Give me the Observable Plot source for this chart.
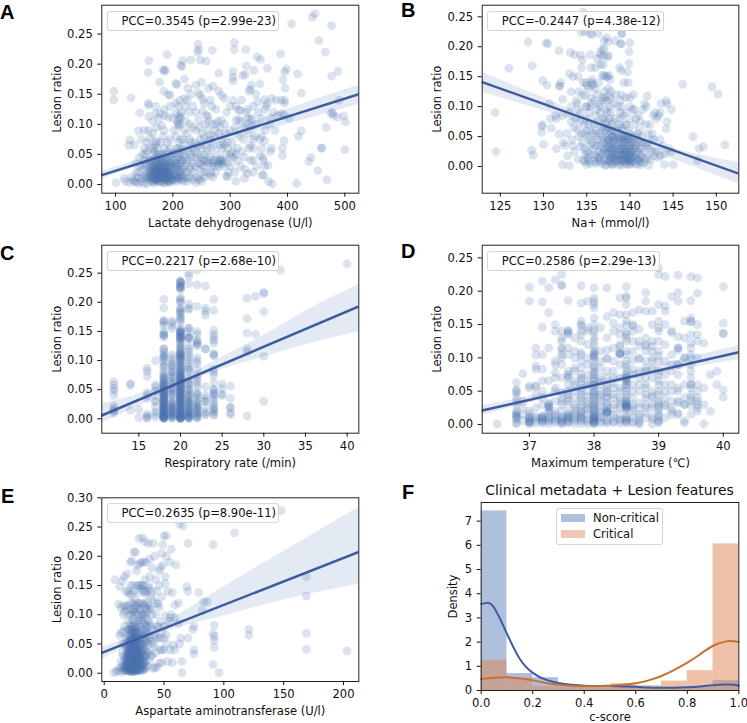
<!DOCTYPE html>
<html><head><meta charset="utf-8">
<script src="https://cdn.jsdelivr.net/npm/d3@7"></script>
<script src="https://cdn.jsdelivr.net/npm/@observablehq/plot@0.6"></script>
<style>
html,body{margin:0;padding:0;background:#fff}
#root{position:relative;width:747px;height:723px;overflow:hidden;font-family:"DejaVu Sans",sans-serif;color:#111}
#root svg{position:absolute;background:transparent}
.pcc{position:absolute;box-sizing:border-box;height:20px;background:rgba(255,255,255,.8);border:1px solid rgba(204,204,204,.8);border-radius:3px;font-size:11.55px;line-height:18px;white-space:nowrap}
.letter{position:absolute;font-family:"Liberation Sans",sans-serif;font-weight:700;font-size:20px;line-height:20px;color:#000}
</style></head><body><div id="root"></div>
<script>
const pointsA=[[97,.155],[97,.141],[127,.144],[101,.003],[157,.186],[158,.206],[190,.216],[183,.191],[187,.19],[185,.188],[214,.198],[216,.196],[217,.206],[231,.207],[244,.233],[245,.224],[243,.22],[248,.207],[258,.205],[269,.223],[307,.236],[307,.224],[327,.224],[347,.212],[353,.208],[388,.217],[328,.197],[365,.193],[341,.19],[305,.188],[305,.178],[305,.172],[322,.181],[326,.183],[398,.192],[395,.187],[392,.174],[418,.184],[407,.267],[443,.278],[448,.284],[477,.264],[455,.239],[466,.22],[488,.188],[477,.18],[424,.152],[337,.165],[335,.158],[333,.155],[352,.167],[205,.168],[207,.166],[177,.17],[184,.155],[192,.15],[195,.148],[157,.135],[158,.132],[142,.119],[158,.113],[140,.089],[125,.074],[123,.065],[133,.066],[501,.104],[498,.114],[487,.112],[478,.12],[476,.118],[480,.115],[490,.14],[467,.095],[459,.06],[460,.061],[453,.023],[469,.008],[416,.002],[500,.058],[441,.045],[437,.038],[419,.08],[424,.089],[378,.09],[394,.073],[391,.06],[391,.048],[373,.001],[367,.005],[358,.015],[356,.016],[366,.032],[226,.16],[232,.15],[225,.14],[212,.14],[205,.135],[220,.143],[245,.152],[248,.148],[252,.142],[262,.16],[270,.163],[265,.14],[268,.13],[285,.148],[290,.143],[305,.14],[310,.13],[315,.124],[317,.123],[330,.125],[340,.13],[348,.137],[360,.141],[365,.135],[372,.143],[380,.14],[395,.14],[395,.135],[360,.125],[370,.11],[390,.118],[395,.115],[403,.11],[170,.118],[178,.118],[185,.115],[192,.112],[200,.11],[205,.118],[212,.115],[208,.105],[210,.098],[214,.112],[222,.105],[228,.12],[230,.1],[245,.107],[252,.122],[258,.115],[262,.113],[262,.105],[275,.1],[285,.107],[290,.1],[310,.107],[315,.108],[330,.11],[335,.108],[330,.1],[325,.095],[338,.097],[345,.1],[355,.08],[360,.072],[355,.06],[372,.06],[370,.055],[352,.048],[358,.04],[360,.03],[340,.075],[335,.065],[340,.04],[325,.045],[318,.03],[330,.018],[325,.01],[340,.02],[310,.005],[300,.05],[305,.055],[310,.05],[295,.07],[290,.065],[285,.06],[280,.085],[272,.08],[265,.082],[255,.078],[248,.075],[240,.09],[232,.07],[225,.085],[218,.075],[205,.08],[195,.075],[185,.09],[180,.098],[172,.095],[165,.085],[170,.072],[172,.07],[160,.077],[150,.06],[142,.045],[135,.035],[128,.012],[115,.01],[118,.005],[125,.003],[130,.008],[135,.004],[140,.002],[145,.005],[150,.001],[155,.002],[140,.02],[148,.025],[152,.03],[155,.055],[160,.062],[165,.06],[168,.055],[172,.05],[175,.045],[178,.042],[182,.05],[185,.06],[190,.055],[195,.045],[200,.052],[205,.05],[210,.06],[212,.052],[215,.058],[218,.05],[222,.045],[225,.04],[230,.05],[235,.06],[240,.055],[245,.065],[250,.06],[255,.05],[260,.055],[265,.045],[270,.04],[275,.04],[280,.038],[285,.035],[290,.038],[295,.035],[300,.045],[245,.035],[250,.033],[255,.03],[262,.035],[268,.03],[275,.02],[280,.03],[240,.03],[235,.035],[230,.025],[225,.02],[220,.03],[215,.03],[210,.025],[205,.028],[200,.03],[198,.025],[195,.02],[192,.03],[188,.025],[185,.03],[182,.022],[178,.03],[175,.025],[172,.028],[170,.03],[168,.022],[165,.03],[162,.025],[160,.03],[158,.04],[155,.02],[152,.015],[160,.015],[163,.012],[165,.018],[168,.012],[170,.015],[172,.01],[175,.015],[178,.012],[180,.018],[182,.01],[185,.015],[188,.012],[190,.018],[192,.01],[195,.012],[198,.008],[200,.015],[205,.01],[208,.005],[212,.012],[215,.008],[220,.01],[225,.005],[230,.012],[235,.008],[240,.003],[245,.008],[248,.01],[250,.005],[255,.012],[265,.015],[270,.012],[293,.014],[295,.013],[160,.008],[165,.005],[170,.006],[175,.005],[180,.005],[185,.004],[190,.005],[195,.003],[165,.04],[168,.042],[172,.038],[175,.035],[180,.035],[185,.04],[190,.04],[195,.035],[205,.04],[210,.042],[215,.04],[175,.02],[178,.02],[180,.025],[185,.02],[188,.02],[170,.02],[165,.022],[160,.02]];
const moreA=[[150,.04],[153,.01],[155,.035],[157,.012],[158,.025],[160,.04],[162,.005],[163,.035],[165,.012],[166,.05],[167,.002],[168,.03],[169,.065],[170,.04],[171,.008],[172,.02],[173,.06],[174,.03],[175,.01],[176,.05],[177,.004],[178,.025],[179,.07],[180,.04],[181,.012],[182,.03],[183,.08],[184,.05],[185,.002],[186,.035],[187,.01],[188,.045],[189,.02],[190,.03],[191,.07],[192,.015],[193,.04],[194,.005],[195,.06],[196,.03],[197,.015],[198,.05],[199,.008],[200,.04],[201,.02],[202,.09],[203,.006],[204,.035],[206,.015],[207,.06],[208,.03],[209,.1],[210,.01],[211,.045],[213,.02],[214,.075],[216,.015],[217,.04],[218,.005],[219,.09],[221,.02],[222,.065],[224,.035],[226,.01],[227,.055],[229,.075],[231,.03],[233,.045],[234,.095],[236,.02],[238,.07],[239,.045],[241,.012],[243,.05],[246,.095],[247,.025],[249,.045],[251,.085],[253,.02],[254,.04],[256,.1],[258,.065],[259,.02],[261,.09],[263,.04],[264,.075],[266,.02],[267,.06],[269,.1],[271,.065],[273,.03],[274,.09],[276,.05],[278,.105],[279,.035],[282,.065],[283,.095],[284,.04],[287,.07],[288,.03],[291,.085],[292,.05],[294,.12],[296,.06],[297,.02],[299,.09],[301,.03],[303,.07],[306,.045],[308,.02],[309,.095],[312,.06],[313,.04],[316,.08],[319,.105],[321,.055],[323,.075],[326,.025],[328,.12],[331,.085],[333,.06],[336,.04],[338,.11],[341,.06],[343,.08],[346,.03],[349,.12],[352,.075],[354,.11],[357,.045],[361,.09],[363,.13],[368,.1],[375,.12],[383,.115],[389,.14],[396,.16],[152,.05],[148,.012],[146,.033],[144,.01],[142,.03],[138,.012],[136,.02],[133,.005],[148,.05],[155,.07],[158,.09],[145,.075],[150,.09],[165,.105],[175,.11],[185,.125],[195,.13],[170,.13],[215,.12],[210,.13],[222,.13],[235,.13],[240,.12],[255,.135],[275,.125],[280,.155],[300,.13],[320,.14],[345,.15],[250,.17],[240,.165],[220,.175],[280,.185]];
const denseA=[[160,.012],[162,.018],[164,.028],[166,.01],[167,.016],[168,.026],[169,.008],[170,.024],[171,.034],[172,.016],[173,.008],[174,.022],[175,.03],[176,.012],[177,.018],[178,.036],[179,.01],[180,.028],[181,.02],[182,.038],[183,.014],[184,.024],[185,.009],[186,.028],[187,.018],[188,.034],[189,.008],[190,.024],[191,.014],[192,.022],[193,.006],[194,.03],[196,.016],[198,.036],[200,.01],[202,.026],[204,.018],[206,.034],[208,.012],[210,.02],[212,.035],[214,.015],[216,.025],[250,.04],[258,.038],[270,.035],[283,.042],[210,.07],[213,.1],[211,.11],[285,.04]];

const pointsB=[[126,.164],[128.2,.208],[128.7,.168],[129.9,.144],[130.3,.206],[130.5,.205],[130.4,.136],[131.8,.193],[131.8,.135],[131.9,.134],[132,.14],[132.2,.112],[124.4,.09],[124.5,.025],[128.6,.027],[128.8,.019],[129.8,.067],[129.8,.057],[129.9,.07],[130,.037],[130.7,.105],[130.8,.08],[130.9,.064],[131.4,.085],[131.5,.08],[131.8,.054],[131.5,.03],[132.2,.085],[132.3,.04],[132.5,.035],[132.2,.003],[132.8,.018],[133,.001],[133.2,.075],[133.5,.065],[133.4,.035],[133.6,.025],[133,.155],[133.1,.19],[133.6,.187],[134.3,.186],[134.5,.178],[134.4,.165],[133.4,.15],[134,.15],[134.6,.14],[134.9,.14],[133.8,.11],[133.9,.105],[134,.095],[134.5,.12],[134.8,.118],[134.9,.1],[134.3,.09],[134.4,.055],[134.5,.04],[134.7,.03],[134.8,.02],[134.8,.008],[135,.003],[135.2,.01],[135.3,.02],[135.3,.045],[135.4,.035],[135.5,.06],[135.5,.105],[135.4,.1],[135.5,.115],[135.5,.14],[135.6,.145],[135.7,.138],[135.7,.135],[135.5,.165],[135.4,.187],[135.4,.222],[135.6,.22],[134.8,.225],[134.4,.224],[134.6,.258],[136.3,.222],[136.5,.19],[136.6,.185],[136.8,.195],[137,.197],[136.6,.17],[136.9,.17],[137,.185],[137.4,.183],[137.5,.185],[137,.152],[137.2,.15],[137.4,.15],[137.6,.152],[137,.21],[137.3,.215],[137.5,.208],[136,.13],[136.2,.12],[136.4,.105],[136.5,.1],[136.8,.115],[136.9,.11],[137.1,.115],[137.3,.11],[137.5,.13],[137.6,.118],[137.8,.113],[136,.085],[136.3,.075],[136.6,.09],[136.8,.08],[137,.08],[137.2,.095],[137.4,.09],[137.6,.08],[137.8,.09],[136,.06],[136.1,.05],[136.2,.045],[136.3,.035],[136.4,.025],[136.5,.012],[136.6,.02],[136.7,.06],[136.8,.05],[136.9,.04],[137,.03],[137,.01],[137.1,.002],[137.2,.06],[137.3,.05],[137.3,.04],[137.4,.03],[137.4,.02],[137.5,.01],[137.5,.065],[137.6,.055],[137.6,.045],[137.7,.035],[137.7,.025],[137.8,.015],[137.8,.005],[137.9,.05],[137.9,.07],[138,.06],[138,.04],[138,.03],[138,.02],[138,.01],[138,.002],[138.1,.05],[138.2,.035],[138.2,.025],[138.3,.015],[138.3,.045],[138.4,.06],[138.5,.03],[138.5,.02],[138.5,.01],[138.6,.065],[138.7,.05],[138.7,.04],[138.8,.07],[138.9,.11],[138.9,.09],[138.9,.08],[139,.1],[139,.12],[139,.05],[139,.03],[139,.02],[139,.01],[139,.002],[139.1,.035],[139.2,.06],[139.2,.045],[139.2,.025],[139.2,.015],[139.3,.04],[139.3,.02],[139.4,.005],[139.4,.03],[139.5,.05],[139.5,.07],[139.5,.09],[139.5,.115],[139.6,.012],[139.6,.025],[139.7,.035],[139.7,.045],[139.8,.02],[139.8,.01],[139.9,.06],[140,.115],[140,.1],[140,.08],[140,.055],[140,.04],[140,.03],[140,.02],[140,.01],[140,.003],[140.1,.035],[140.2,.015],[140.2,.025],[140.3,.05],[140.4,.12],[140.5,.07],[140.5,.04],[140.5,.015],[140.6,.03],[140.6,.005],[140.7,.02],[140.8,.012],[140.9,.055],[141,.085],[141,.045],[141,.03],[141,.01],[141.2,.02],[141.3,.003],[141.5,.095],[141.7,.105],[141.9,.1],[142,.118],[141.8,.07],[142,.04],[142,.015],[142.2,.002],[142.3,.07],[142.5,.045],[142.6,.025],[142.7,.085],[142.9,.09],[143.1,.08],[143.3,.085],[143.5,.09],[143.3,.015],[143.5,.018],[143.6,.105],[144.2,.11],[144.3,.105],[144.3,.075],[144.2,.063],[144.8,.095],[144,.003],[144,.02],[144.5,.03],[144.8,.025],[145,.003],[146.1,.137],[147.3,.05],[147.8,.01],[148,.03],[148.5,.033],[149.5,.133],[150.2,.121],[151,.036],[138.9,.205],[139,.205],[140,.207],[138.3,.21],[139.9,.192],[139.9,.172],[139.7,.158],[139,.16],[139.3,.14],[139.8,.14],[138.8,.165],[139,.222],[139.1,.222],[137.8,.125],[138.4,.12],[136.8,.152],[135,.135],[135.2,.13],[134.7,.07],[135,.06],[135.1,.05],[135,.08],[135.8,.02],[135.9,.01],[136,.005],[136.4,.015],[138.6,.012],[138.8,.025],[141.4,.05],[141.1,.06],[140.7,.08],[142.1,.055],[143,.025],[143.8,.035],[142.8,.045],[143.5,.045]];
const moreB=[[132.7,.055],[133,.09],[133.2,.1],[133.3,.045],[133.7,.08],[133.9,.062],[134,.012],[134.1,.05],[134.2,.075],[134.3,.033],[134.6,.01],[134.8,.055],[135,.025],[135,.1],[135.1,.015],[135.2,.07],[135.3,.09],[135.4,.005],[135.6,.04],[135.7,.028],[135.8,.055],[135.9,.072],[136,.035],[136.1,.016],[136.2,.095],[136.3,.008],[136.5,.055],[136.6,.035],[136.7,.005],[136.8,.022],[136.9,.065],[137,.045],[137.1,.025],[137.1,.07],[137.2,.012],[137.2,.03],[137.3,.003],[137.3,.075],[137.4,.045],[137.5,.022],[137.5,.035],[137.6,.008],[137.6,.1],[137.7,.015],[137.7,.06],[137.8,.04],[137.9,.02],[137.9,.03],[138,.05],[138,.075],[138.1,.015],[138.1,.005],[138.2,.045],[138.3,.03],[138.3,.08],[138.4,.02],[138.4,.008],[138.5,.05],[138.6,.035],[138.6,.1],[138.7,.018],[138.7,.003],[138.8,.045],[138.9,.03],[138.9,.012],[139,.04],[139,.065],[139.1,.02],[139.1,.008],[139.2,.05],[139.3,.012],[139.3,.03],[139.4,.045],[139.4,.018],[139.5,.025],[139.5,.008],[139.6,.04],[139.6,.07],[139.7,.015],[139.7,.003],[139.8,.03],[139.8,.05],[139.9,.022],[139.9,.01],[140,.045],[140,.015],[140.1,.006],[140.1,.025],[140.2,.04],[140.3,.018],[140.3,.008],[140.4,.03],[140.5,.095],[140.6,.05],[140.7,.035],[140.8,.003],[140.9,.025],[141,.015],[141.1,.04],[141.2,.008],[141.3,.03],[141.4,.015],[141.5,.04],[141.6,.006],[141.7,.025],[141.8,.012],[141.9,.035],[142.2,.03],[142.4,.012],[142.6,.055],[142.8,.018],[137,.125],[136.4,.14],[138.1,.105],[139.2,.085],[140.3,.095],[141.2,.075],[134.1,.125],[135.9,.11],[133.2,.125],[137.7,.145],[136,.165],[136.2,.18]];

const ratesC=[12,14,15,16,17,18,19,20,21,22,23,24,25,26,28,29,30,32,40];
const ratiosC=[
[.064,.058,.052,.048,.04,.022,.018,.015,.013,.01],
[.06,.058,.015],
[.016,.002],
[.087,.082,.073,.045,.04,.035,.008,.005,.002,.001],
[.1,.058,.055,.048,.04,.03,.03,.02,.012,.008,.003],
[.205,.19,.168,.165,.16,.15,.145,.143,.14,.12,.115,.11,.108,.105,.1,.095,.09,.082,.078,.075,.072,.069,.066,.063,.06,.058,.055,.052,.05,.048,.046,.044,.042,.04,.038,.036,.034,.032,.03,.028,.026,.024,.022,.02,.018,.016,.014,.012,.01,.008,.006,.004,.003,.002,.001,.001],
[.168,.165,.155,.1,.095,.09,.085,.08,.075,.07,.065,.06,.055,.05,.045,.04,.03,.026,.022,.02,.018,.015,.012,.01,.007,.005,.002],
[.237,.235,.23,.225,.225,.205,.2,.19,.185,.18,.172,.17,.165,.155,.152,.15,.148,.145,.142,.14,.138,.135,.13,.125,.122,.12,.115,.113,.11,.108,.105,.103,.1,.098,.095,.09,.088,.085,.082,.08,.078,.076,.074,.072,.07,.068,.066,.064,.062,.06,.058,.056,.054,.052,.05,.048,.046,.044,.042,.04,.038,.036,.034,.032,.03,.028,.026,.024,.022,.02,.018,.016,.014,.012,.01,.008,.006,.004,.003,.002,.001,.001,.0],
[.25,.245,.232,.197,.19,.188,.156,.15,.14,.138,.12,.11,.105,.09,.085,.08,.07,.06,.055,.05,.045,.04,.035,.03,.028,.025,.022,.02,.016,.013,.01,.007,.004,.002,.001],
[.255,.23,.193,.15,.135,.13,.125,.105,.1,.095,.075,.07,.06,.045,.04,.035,.03,.025,.02,.018,.015,.012,.01,.008,.004,.002],
[.228,.19,.185,.178,.12,.055,.035,.03,.02,.007],
[.205,.186,.152,.145,.135,.112,.108,.085,.08,.075,.062,.05,.045,.04,.035,.025,.02,.012,.008],
[.06,.052,.042,.04],
[.056,.035,.02,.019,.01,.007],
[.207,.172,.147,.12,.115,.005],
[.21,.145],
[.217,.215,.184,.107,.03],
[.255],
[.266]];
const ratesC2=[18,19,20,21,22,23,24];
const ratiosC2=[
[.168,.145,.12,.105,.09,.07,.065,.06,.055,.05,.045,.04,.035,.03,.025,.022,.02,.018,.015,.012,.01,.007,.005,.003,.002,.001,.058,.05,.042,.036,.03,.024,.018,.012,.008,.004],
[.16,.11,.105,.092,.08,.072,.062,.052,.048,.042,.035,.028,.024,.019,.016,.012,.009,.006,.003,.001],
[.234,.228,.222,.208,.202,.188,.183,.175,.15,.147,.14,.137,.118,.112,.107,.1,.092,.08,.072,.065,.06,.055,.05,.045,.04,.035,.03,.025,.02,.015,.01,.005,.002,.001,.072,.062,.052,.042,.032,.022,.012,.148,.141,.13,.11,.105,.09,.085,.075,.068,.058,.048,.038,.028,.018,.008,.003,.015,.01,.006,.225,.235],
[.155,.14,.138,.125,.115,.1,.095,.085,.065,.06,.05,.042,.032,.024,.018,.012,.009,.005,.001,.038,.028,.015,.006,.003],
[.145,.132,.128,.085,.065,.055,.042,.028,.022,.016,.006,.001],
[.12,.04,.03,.012,.008],
[.14,.13,.11,.05,.042,.03,.018,.015,.006]];

const tempsD=[36.5,36.8,36.9,37,37.1,37.2,37.3,37.4,37.5,37.6,37.7,37.8,37.9,38,38.1,38.2,38.3,38.4,38.5,38.6,38.7,38.8,38.9,39,39.1,39.2,39.3,39.4,39.5,39.6,39.7,39.8,39.9,40];
const ratiosD=[
[.001],
[.063,.052,.047,.04,.034,.03,.018,.015,.014,.01,.003,.001],
[.076,.025,.006],
[.206,.185,.058,.02,.016,.01,.008,.006,.004,.002,.001],
[.115,.104,.088,.083,.058,.057,.012,.006,.002],
[.215,.184,.146,.105,.083,.066,.05,.013,.01,.009,.008,.006,.002],
[.205,.168,.115,.066,.03,.028,.025,.02,.012,.007,.001],
[.217,.15,.095,.09,.078,.055,.05,.015,.012,.006,.003],
[.225,.21,.208,.14,.13,.115,.112,.105,.1,.048,.04,.03,.012,.01,.006,.004,.002,.001],
[.186,.141,.138,.135,.115,.075,.07,.06,.045,.04,.036,.015,.013,.01,.006,.004,.002],
[.13,.1,.085,.065,.05,.025,.016,.012,.006,.001],
[.208,.182,.155,.148,.14,.125,.108,.104,.095,.075,.068,.06,.055,.045,.035,.025,.018,.012,.01,.005,.001],
[.185,.14,.09,.075,.065,.05,.042,.03,.022,.008,.001],
[.205,.19,.185,.18,.16,.142,.138,.125,.118,.112,.106,.102,.1,.085,.08,.075,.07,.065,.06,.055,.05,.045,.04,.035,.03,.025,.02,.018,.015,.012,.01,.008,.005,.003,.001],
[.095,.072,.06,.05,.04,.028,.018,.01,.002],
[.205,.162,.112,.098,.06,.05,.048,.04,.03,.02,.019,.018,.007,.002],
[.168,.152,.095,.07,.055,.045,.03,.01,.003],
[.19,.135,.12,.107,.105,.055,.035,.025,.008,.006,.002],
[.207,.193,.19,.165,.15,.138,.135,.13,.11,.095,.085,.08,.075,.07,.068,.065,.06,.055,.05,.045,.035,.032,.03,.028,.025,.022,.008,.006,.004,.002],
[.168,.148,.11,.097,.083,.05,.03,.02,.005],
[.172,.143,.118,.098,.06,.032,.012,.006,.002,.001],
[.198,.185,.17,.13,.118,.095,.08,.06,.045,.03,.018],
[.17,.15,.118,.095,.07,.043,.03,.008,.001],
[.235,.225,.18,.155,.14,.125,.11,.103,.08,.066,.05,.045,.035,.025,.02,.012,.005,.002],
[.222,.178,.15,.095,.075,.04,.028],
[.192,.14,.138,.09,.06,.025,.015],
[.224,.198,.185,.132,.115,.112,.09,.05,.035,.015],
[.155,.1,.006,.002,.03],
[.222,.186,.155,.154,.135,.122,.105,.1,.09,.06,.055,.045,.035,.015],
[.22,.197,.15,.135,.04,.035,.03],
[.122,.055,.03,.001],
[.075,.02],
[.08,.06],
[.207,.152,.137,.136,.052,.041]];
const tempsD2=[36.8,36.9,37,37.1,37.2,37.3,37.4,37.5,37.6,37.7,37.8,37.9,38,38.1,38.2,38.3,38.4,38.5,38.6,38.7,38.8,38.9,39,39.1,39.2,39.3,39.4,39.5,39.6];
const ratiosD2=[
[.05,.02,.012,.008],[.035,.015],[.055,.012,.004],[.045,.025,.01],[.04,.03,.012,.004],[.032,.026,.018,.01,.005],[.14,.07,.035,.02,.008],[.125,.09,.07,.035,.02,.008],[.14,.105,.08,.072,.05,.03,.018,.011,.008],[.11,.08,.06,.04,.03,.02,.009],[.15,.135,.085,.07,.05,.04,.03,.02,.014,.008],[.145,.12,.1,.06,.035,.025,.015,.005],[.175,.15,.13,.108,.095,.078,.068,.058,.048,.028,.022,.014,.006,.002,.104,.088,.012,.008,.004,.042,.032],[.145,.11,.085,.065,.045,.035,.022,.012,.005],[.13,.1,.08,.07,.055,.042,.032,.025,.016,.004,.02,.018],[.14,.115,.08,.062,.04,.024,.015,.005],[.165,.145,.117,.09,.07,.05,.04,.03,.015,.107,.106],[.18,.155,.125,.105,.09,.06,.04,.034,.026,.012,.01,.072,.066,.03,.028,.024],[.15,.14,.125,.075,.06,.04,.025,.012,.002],[.125,.1,.08,.07,.05,.025,.015],[.12,.11,.085,.07,.055,.04,.025,.01],[.125,.11,.1,.085,.05,.04,.025,.012],[.145,.095,.075,.06,.032,.028,.015,.006],[.17,.12,.06,.05,.03,.01],[.105,.08,.05,.035,.02],[.115,.09,.075,.055,.033,.017],[.13,.1,.06,.04,.03],[.16,.115,.08,.07,.06,.04,.028],[.125,.1,.06,.05,.025,.02]];

const pointsE=[[8,.001],[9,.16],[12,.118],[13,.148],[14,.112],[15,.158],[16,.1],[17,.165],[18,.14],[19,.17],[14,.07],[13,.065],[16,.07],[18,.06],[10,.003],[12,.005],[14,.002],[15,.01],[16,.005],[17,.012],[17,.025],[18,.005],[18,.015],[18,.03],[18,.045],[19,.008],[19,.02],[19,.035],[19,.055],[19,.075],[19,.108],[20,.005],[20,.012],[20,.022],[20,.03],[20,.04],[20,.05],[20,.065],[20,.09],[20,.115],[21,.003],[21,.01],[21,.018],[21,.028],[21,.038],[21,.048],[21,.06],[21,.075],[21,.1],[21,.135],[22,.006],[22,.015],[22,.025],[22,.035],[22,.045],[22,.055],[22,.07],[22,.085],[22,.11],[22,.15],[22,.19],[23,.002],[23,.01],[23,.02],[23,.03],[23,.04],[23,.05],[23,.065],[23,.08],[23,.1],[23,.135],[23,.192],[24,.007],[24,.015],[24,.024],[24,.033],[24,.042],[24,.052],[24,.06],[24,.075],[24,.09],[24,.12],[24,.15],[25,.003],[25,.012],[25,.02],[25,.03],[25,.04],[25,.05],[25,.06],[25,.07],[25,.085],[25,.11],[25,.14],[25,.207],[26,.006],[26,.015],[26,.026],[26,.036],[26,.046],[26,.055],[26,.068],[26,.08],[26,.105],[26,.125],[26,.207],[27,.01],[27,.018],[27,.03],[27,.04],[27,.05],[27,.062],[27,.078],[27,.115],[27,.15],[27,.175],[28,.004],[28,.014],[28,.024],[28,.034],[28,.044],[28,.06],[28,.075],[28,.1],[28,.12],[28,.185],[29,.008],[29,.02],[29,.03],[29,.045],[29,.055],[29,.09],[29,.11],[29,.138],[29,.15],[29,.23],[30,.012],[30,.025],[30,.035],[30,.05],[30,.07],[30,.095],[30,.12],[30,.15],[30,.188],[31,.005],[31,.018],[31,.03],[31,.045],[31,.06],[31,.105],[31,.145],[31,.19],[32,.01],[32,.022],[32,.038],[32,.065],[32,.085],[32,.118],[32,.232],[33,.015],[33,.028],[33,.05],[33,.075],[33,.1],[33,.14],[33,.15],[33,.19],[34,.006],[34,.03],[34,.06],[34,.085],[34,.115],[34,.16],[34,.225],[35,.02],[35,.04],[35,.07],[35,.095],[35,.135],[35,.19],[36,.012],[36,.055],[36,.08],[36,.105],[36,.14],[37,.035],[37,.065],[37,.115],[37,.222],[38,.022],[38,.085],[38,.145],[38,.165],[38,.195],[39,.055],[39,.11],[40,.03],[40,.075],[40,.14],[41,.008],[41,.05],[41,.125],[41,.222],[42,.01],[42,.065],[42,.2],[43,.035],[43,.06],[43,.16],[44,.01],[44,.08],[44,.12],[45,.06],[45,.118],[46,.017],[46,.113],[46,.175],[47,.06],[47,.088],[47,.18],[48,.018],[48,.04],[48,.07],[48,.205],[49,.185],[49,.22],[50,.06],[50,.04],[50,.235],[51,.098],[51,.153],[51,.165],[52,.065],[52,.2],[52,.235],[53,.02],[54,.088],[55,.095],[55,.19],[56,.212],[57,.138],[57,.018],[58,.048],[59,.095],[59,.117],[59,.04],[60,.185],[62,.12],[62,.085],[63,.05],[63,.255],[65,.02],[65,.001],[66,.252],[64,.06],[70,.222],[69,.148],[70,.14],[70,.06],[75,.08],[74,.075],[75,.04],[75,.033],[79,.138],[83,.122],[82,.107],[86,.122],[91,.22],[91,.068],[91,.015],[92,.082],[92,.063],[92,.056],[92,.044],[96,.001],[109,.24],[121,.075],[121,.065],[148,.278],[169,.165],[169,.132],[169,.068],[169,.041],[203,.038]];
const moreE=[[13,.01],[14,.02],[15,.035],[15,.05],[16,.03],[16,.015],[16,.115],[17,.05],[17,.08],[17,.105],[18,.01],[18,.022],[18,.115],[19,.014],[19,.028],[19,.045],[20,.018],[20,.035],[20,.045],[20,.075],[20,.14],[21,.007],[21,.014],[21,.024],[21,.034],[21,.054],[22,.004],[22,.011],[22,.02],[22,.03],[22,.04],[22,.05],[22,.062],[22,.12],[23,.006],[23,.015],[23,.025],[23,.035],[23,.045],[23,.058],[23,.072],[24,.003],[24,.011],[24,.02],[24,.029],[24,.038],[24,.047],[24,.057],[24,.068],[24,.105],[25,.007],[25,.016],[25,.025],[25,.035],[25,.045],[25,.055],[25,.065],[25,.1],[26,.003],[26,.011],[26,.02],[26,.031],[26,.041],[26,.05],[26,.06],[26,.075],[26,.115],[27,.006],[27,.014],[27,.024],[27,.035],[27,.045],[27,.056],[27,.07],[28,.009],[28,.019],[28,.029],[28,.039],[28,.05],[28,.068],[28,.09],[29,.004],[29,.014],[29,.025],[29,.038],[29,.05],[29,.065],[30,.006],[30,.018],[30,.03],[30,.042],[30,.06],[30,.08],[30,.11],[31,.012],[31,.025],[31,.038],[31,.052],[31,.075],[31,.09],[32,.005],[32,.016],[32,.03],[32,.05],[32,.1],[32,.15],[33,.008],[33,.022],[33,.04],[33,.06],[33,.12],[34,.018],[34,.045],[34,.07],[34,.1],[34,.14],[35,.01],[35,.03],[35,.055],[35,.082],[35,.11],[36,.035],[36,.07],[36,.12],[37,.05],[37,.09],[37,.15],[38,.06],[38,.11],[39,.03],[39,.08],[39,.13],[40,.1],[40,.18],[42,.045],[43,.1],[44,.14],[45,.08],[46,.15],[47,.04],[48,.13],[50,.08],[52,.05],[53,.14],[55,.04],[56,.1]];
const denseE=[[17,.004],[18,.008],[18,.02],[19,.004],[19,.012],[19,.026],[20,.008],[20,.016],[20,.026],[20,.036],[21,.005],[21,.012],[21,.02],[21,.03],[21,.042],[22,.008],[22,.018],[22,.028],[22,.038],[23,.004],[23,.012],[23,.022],[23,.032],[23,.042],[24,.005],[24,.013],[24,.022],[24,.031],[24,.04],[25,.005],[25,.014],[25,.023],[25,.033],[25,.043],[26,.008],[26,.018],[26,.028],[26,.038],[27,.004],[27,.012],[27,.022],[27,.032],[28,.006],[28,.016],[28,.026],[28,.036],[29,.01],[29,.022],[29,.034],[30,.008],[30,.02],[30,.028],[21,.055],[23,.055],[25,.058],[27,.06],[22,.075],[24,.08],[26,.07]];

const lineA=[[76,.0155],[524.4,.15]], bandA=[[76,.009,.022],[150,.033,.043],[230,.053,.067],[300,.074,.09],[400,.1,.125],[524.4,.133,.165]];
const lineB=[[122.9,.141],[152.6,-.012]], bandB=[[122.9,.124,.157],[130,.093,.115],[138,.053,.065],[145,.012,.03],[152.6,-.029,.007]];
const lineC=[[10.56,.0057],[41.4,.193]], bandC=[[10.56,-.007,.026],[15,.022,.042],[20,.057,.069],[25,.085,.106],[30,.106,.143],[35,.127,.185],[41.4,.15,.23]];
const lineD=[[36.27,.021],[40.24,.1085]], bandD=[[36.27,.0135,.0285],[37.2,.037,.046],[38.2,.06,.069],[39.2,.08,.094],[40.24,.097,.118]];
const lineE=[[-2,.0348],[212.8,.2075]], bandE=[[-2,.0234,.0445],[30,.055,.067],[60,.077,.098],[100,.098,.148],[150,.125,.208],[212.8,.152,.284]];

const binEdges=[0,.1,.2,.3,.4,.5,.6,.7,.8,.9,1];
const nonCritical=[7.42,.7,.53,.2,.16,.2,.13,.13,.13,.41];
const critical=[1.25,.52,.17,.13,.1,.28,.2,.39,.82,6.06];
const scoreGrid=[0,.02,.05,.1,.15,.2,.25,.3,.35,.4,.45,.5,.55,.6,.65,.7,.75,.8,.85,.9,.95,.98,1];
const kdeNon=[3.58,3.62,3.42,2.35,1.3,.73,.45,.31,.24,.2,.19,.19,.17,.15,.12,.11,.11,.13,.17,.22,.25,.24,.2];
const kdeCrit=[.48,.5,.53,.55,.5,.42,.31,.24,.2,.18,.18,.2,.24,.3,.42,.6,.85,1.15,1.5,1.85,2.03,2.04,2];

const BLUE="#4c72b0", LINE="#3d5c9f", ORANGE="#dd8452", OLINE="#c8702e";
const root=document.getElementById("root");
const sty={fontSize:"11.55px",fontFamily:"'DejaVu Sans',sans-serif",color:"#111",background:"transparent",overflow:"visible"};

function scatter(o){
  const svg=Plot.plot({
    width:o.w,height:o.h,marginLeft:o.ml,marginRight:o.mr,marginTop:o.mt,marginBottom:o.mb,style:sty,
    x:{domain:o.xd},y:{domain:o.yd},
    marks:[
      Plot.dot(o.pts,{x:d=>d[0],y:d=>d[1],r:4.4,fill:BLUE,fillOpacity:.2,clip:true}),
      Plot.areaY(o.band,{x:d=>d[0],y1:d=>d[1],y2:d=>d[2],fill:BLUE,fillOpacity:.15,curve:"monotone-x",clip:true}),
      Plot.line(o.line,{x:d=>d[0],y:d=>d[1],stroke:LINE,strokeWidth:2.5,clip:true}),
      Plot.frame({stroke:"#222",strokeWidth:1}),
      Plot.axisX({ticks:o.xt,tickSize:4,tickPadding:4.5,tickFormat:o.xf||(d=>d),label:o.xl,labelAnchor:"center",labelArrow:"none",labelOffset:33.5}),
      Plot.axisY({ticks:o.yt,tickSize:4,tickPadding:5,tickFormat:d3.format(".2f"),label:"Lesion ratio",labelAnchor:"center",labelArrow:"none",labelOffset:49})
    ]
  });
  svg.style.left=o.l+"px";svg.style.top=o.t+"px";
  root.appendChild(svg);
}
function box(text,l,t,w,pad){
  const b=document.createElement("div");b.className="pcc";b.textContent=text;
  b.style.cssText=`left:${l}px;top:${t}px;width:${w}px;padding-left:${pad}px`;root.appendChild(b);
}
function letter(s,l,t){const e=document.createElement("div");e.className="letter";e.textContent=s;e.style.left=l+"px";e.style.top=t+"px";root.appendChild(e);}

const yTicks=[0,.05,.1,.15,.2,.25];
const L={w:375,l:0,ml:101.3,mr:16.7}, R={w:372,l:375,ml:106.7,mr:8.7};
const expand=(xs,ys)=>xs.flatMap((r,i)=>ys[i].map(v=>[r,v]));
scatter({...L,t:0,h:235,mt:4.7,mb:42.3,xd:[76,524.4],yd:[-.0145,.298],pts:[...pointsA,...moreA,...denseA],band:bandA,line:lineA,xt:[100,200,300,400,500],yt:yTicks,xl:"Lactate dehydrogenase (U/l)"});
scatter({...R,t:0,h:235,mt:4.7,mb:42.3,xd:[122.9,152.6],yd:[-.0446,.2694],pts:[...pointsB,...moreB],band:bandB,line:lineB,xt:[125,130,135,140,145,150],yt:yTicks,xl:"Na+ (mmol/l)"});
scatter({...L,t:240,h:235,mt:4.7,mb:42.3,xd:[10.56,41.4],yd:[-.0247,.298],pts:[...expand(ratesC,ratiosC),...expand(ratesC2,ratiosC2)],band:bandC,line:lineC,xt:[15,20,25,30,35,40],yt:yTicks,xl:"Respiratory rate (/min)"});
scatter({...R,t:240,h:235,mt:4.7,mb:42.3,xd:[36.27,40.24],yd:[-.013,.269],pts:[...expand(tempsD,ratiosD),...expand(tempsD2,ratiosD2)],band:bandD,line:lineD,xt:[37,38,39,40],yt:yTicks,xl:"Maximum temperature (℃)"});
scatter({...L,t:480,h:243,mt:17.3,mb:42,xd:[-2,212.8],yd:[-.0142,.3],pts:[...pointsE,...moreE,...denseE],band:bandE,line:lineE,xt:[0,50,100,150,200],yt:[...yTicks,.3],xl:"Aspartate aminotransferase (U/l)"});

const bars=(vals)=>vals.map((v,i)=>({x1:binEdges[i],x2:binEdges[i+1],y:v}));
const kde=(vals)=>scoreGrid.map((x,i)=>({x,y:vals[i]}));
const svgF=Plot.plot({
  width:372,height:243,marginLeft:105.7,marginRight:8.7,marginTop:22,marginBottom:33,style:sty,
  x:{domain:[0,1]},y:{domain:[0,7.77]},
  marks:[
    Plot.rectY(bars(nonCritical),{x1:"x1",x2:"x2",y:"y",fill:BLUE,fillOpacity:.45}),
    Plot.rectY(bars(critical),{x1:"x1",x2:"x2",y:"y",fill:ORANGE,fillOpacity:.5}),
    Plot.line(kde(kdeNon),{x:"x",y:"y",stroke:LINE,strokeWidth:2,curve:"natural"}),
    Plot.line(kde(kdeCrit),{x:"x",y:"y",stroke:OLINE,strokeWidth:2,curve:"natural"}),
    Plot.frame({stroke:"#222",strokeWidth:1}),
    Plot.axisX({ticks:[0,.2,.4,.6,.8,1],tickSize:4,tickPadding:4.5,tickFormat:d3.format(".1f"),label:"c-score",labelAnchor:"center",labelArrow:"none",labelOffset:30.5}),
    Plot.axisY({ticks:[0,1,2,3,4,5,6,7],tickSize:4,tickPadding:5,tickFormat:d=>d,label:"Density",labelAnchor:"center",labelArrow:"none",labelOffset:32})
  ]
});
svgF.style.left="375px";svgF.style.top="480px";root.appendChild(svgF);

box("PCC=0.3545 (p=2.99e-23)",107,10.7,172,13.5);
box("PCC=-0.2447 (p=4.38e-12)",487.3,10.7,176.4,13.5);
box("PCC=0.2217 (p=2.68e-10)",107,250.7,172,13.5);
box("PCC=0.2586 (p=2.29e-13)",487.3,250.7,172.7,13.5);
box("PCC=0.2635 (p=8.90e-11)",107,503.3,172,13.5);

const title=document.createElement("div");title.textContent="Clinical metadata + Lesion features";
title.style.cssText="position:absolute;left:480px;width:259px;top:482px;text-align:center;font-size:13.9px;line-height:16px;white-space:nowrap";root.appendChild(title);

const leg=document.createElement("div");
leg.style.cssText="position:absolute;left:556px;top:507.7px;width:107.3px;height:37.3px;box-sizing:border-box;background:rgba(255,255,255,.8);border:1px solid rgba(204,204,204,.8);border-radius:3px";
[["Non-critical",BLUE,5],["Critical",ORANGE,21.7]].forEach(([t,c,y])=>{
  const s=document.createElement("div");s.style.cssText=`position:absolute;left:3.5px;top:${y}px;width:24px;height:8px;background:${c};opacity:.45`;leg.appendChild(s);
  const x=document.createElement("div");x.textContent=t;x.style.cssText=`position:absolute;left:36px;top:${y-3}px;font-size:11.55px;line-height:14px;white-space:nowrap`;leg.appendChild(x);
});
root.appendChild(leg);

[["A",0,2],["B",401,0],["C",0,243],["D",401,241],["E",1,486],["F",402,482]].forEach(a=>letter(...a));
</script></body></html>
